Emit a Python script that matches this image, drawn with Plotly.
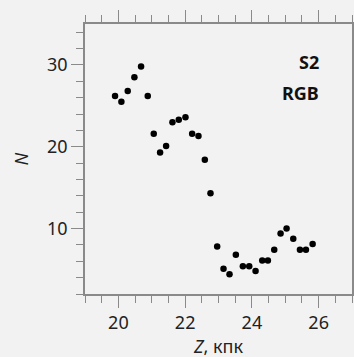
import plotly.graph_objects as go

z_kpc = [19.90, 20.09, 20.28, 20.48, 20.68, 20.88, 21.06, 21.25, 21.43, 21.62,
         21.81, 22.01, 22.21, 22.40, 22.59, 22.76, 22.96, 23.15, 23.33, 23.52,
         23.73, 23.92, 24.11, 24.31, 24.48, 24.67, 24.86, 25.04, 25.24, 25.44,
         25.62, 25.82]
n_stars = [26.2, 25.5, 26.8, 28.5, 29.8, 26.2, 21.6, 19.3, 20.1, 23.0,
           23.3, 23.6, 21.6, 21.3, 18.4, 14.3, 7.8, 5.1, 4.4, 6.8,
           5.4, 5.4, 4.8, 6.1, 6.1, 7.4, 9.4, 10.0, 8.75, 7.4,
           7.4, 8.1]
x_ticks = [20, 22, 24, 26]
y_ticks = [10, 20, 30]

bg = "#f2f2f2"
axc = "#8a8a8a"
font = "Noto Sans"

fig = go.Figure()
fig.add_trace(go.Scatter(x=z_kpc, y=n_stars, mode="markers",
                         marker=dict(color="black", size=6.5), showlegend=False))

common = dict(showline=True, linecolor=axc, linewidth=1.5, mirror="allticks",
              ticks="outside", ticklen=12, tickwidth=1.2, tickcolor=axc,
              showgrid=False, zeroline=False, automargin=False,
              tickfont=dict(family=font, size=18, color="#222"))

fig.update_xaxes(range=[19, 27], tickvals=x_ticks, **common,
                 minor=dict(ticks="outside", ticklen=7, tickwidth=1.2, tickcolor=axc, dtick=0.5, showgrid=False))
fig.update_yaxes(range=[2, 35], tickvals=y_ticks, **common,
                 minor=dict(ticks="outside", ticklen=7, tickwidth=1.2, tickcolor=axc, dtick=2, showgrid=False),
                 title=dict(text="<i>N</i>", font=dict(family=font, size=18, color="#222"), standoff=14))

fig.add_annotation(text="<i>Z</i>, кпк", x=0.5, y=-0.192, xref="paper", yref="paper",
                   xanchor="center", yanchor="middle", showarrow=False,
                   font=dict(family=font, size=18, color="#222"))
fig.add_annotation(text="<b>S2</b>", x=0.885, y=0.86, xref="paper", yref="paper",
                   xanchor="right", yanchor="middle", showarrow=False,
                   font=dict(family=font, size=18, color="#111"))
fig.add_annotation(text="<b>RGB</b>", x=0.885, y=0.745, xref="paper", yref="paper",
                   xanchor="right", yanchor="middle", showarrow=False,
                   font=dict(family=font, size=18, color="#111"))

fig.update_layout(width=354, height=357, margin=dict(l=85, r=2, t=24, b=63),
                  paper_bgcolor=bg, plot_bgcolor=bg)
fig.write_html("out.html")
